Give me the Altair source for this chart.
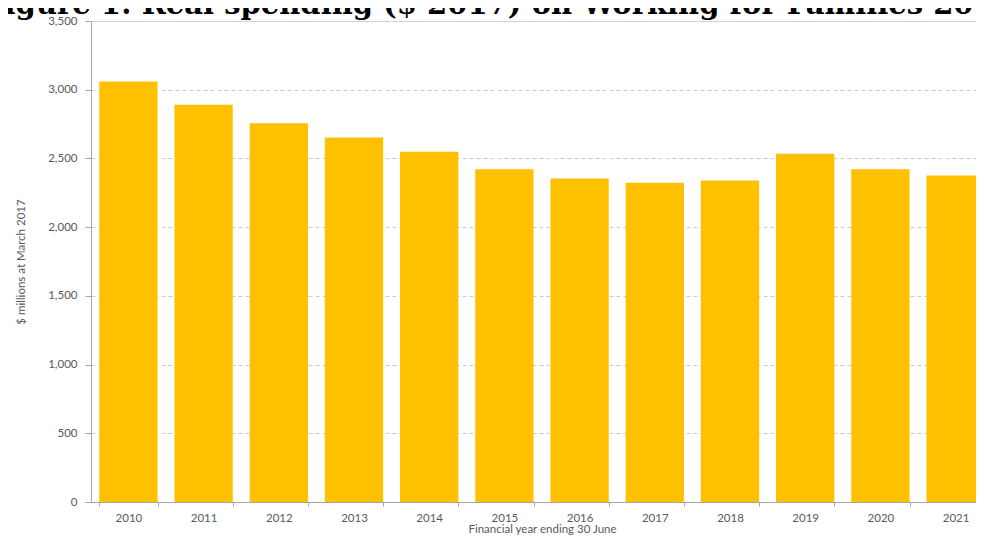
import altair as alt
import pandas as pd

years = ["2010", "2011", "2012", "2013", "2014", "2015", "2016", "2017", "2018", "2019", "2020", "2021"]
spending = [3059, 2891, 2756, 2653, 2549, 2422, 2354, 2323, 2339, 2534, 2422, 2375]

title_text = "Figure 1: Real spending ($ 2017) on Working for Families 2010-2021"
y_title = "$ millions at March 2017"
x_title = "Financial year ending 30 June"

df = pd.DataFrame({"year": years, "value": spending})
title_df = pd.DataFrame({"t": [title_text]})

label_font = "Lato"
gray_text = "#595959"

bars = alt.Chart(df).mark_bar(color="#FFC000").encode(
    x=alt.X(
        "year:N",
        sort=years,
        title=x_title,
        scale=alt.Scale(paddingInner=0.225, paddingOuter=0.11),
        axis=alt.Axis(
            labelAngle=0,
            labelFont=label_font,
            labelFontSize=11.5,
            labelColor=gray_text,
            labelPadding=6,
            titleFont=label_font,
            titleFontSize=11.5,
            titleFontWeight="normal",
            titleColor=gray_text,
            titlePadding=0,
            tickBand="extent",
            tickSize=4,
            tickColor="#a6a6a6",
            domainColor="#a6a6a6",
            grid=False,
        ),
    ),
    y=alt.Y(
        "value:Q",
        title=y_title,
        scale=alt.Scale(domain=[0, 3500], nice=False),
        axis=alt.Axis(
            values=[0, 500, 1000, 1500, 2000, 2500, 3000, 3500],
            format=",.0f",
            labelFont=label_font,
            labelFontSize=11.5,
            labelColor=gray_text,
            labelPadding=8,
            tickSize=6,
            tickColor="#a6a6a6",
            domainColor="#a6a6a6",
            titleFont=label_font,
            titleFontSize=11.5,
            titleFontWeight="normal",
            titleColor=gray_text,
            titlePadding=21,
            grid=True,
            gridColor="#cccccc",
            gridDash=[4, 3],
        ),
    ),
)

title_mark = alt.Chart(title_df).mark_text(
    align="left",
    baseline="alphabetic",
    font="DejaVu Serif",
    fontWeight="bold",
    fontSize=29,
    color="#000000",
).encode(
    text="t:N",
    x=alt.value(-107),
    y=alt.value(-7),
)

chart = alt.layer(bars, title_mark).properties(
    width=902,
    height=481,
    autosize=alt.AutoSizeParams(type="none"),
    padding={"left": 83, "top": 13, "right": -17, "bottom": 33},
).configure_view(stroke="#d9d9d9")

chart.save("out.html", embed_options={"renderer": "svg", "actions": False})
